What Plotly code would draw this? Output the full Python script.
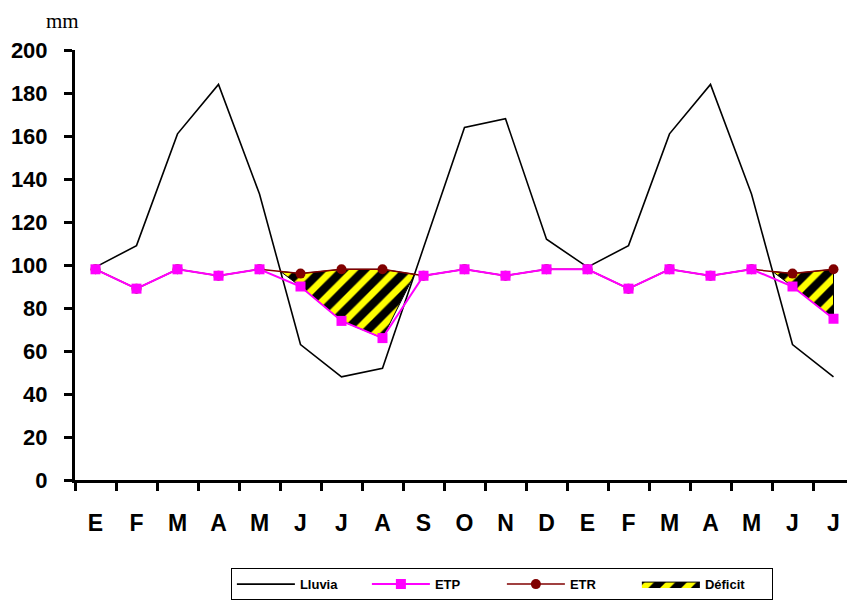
import plotly.graph_objects as go

months = ["E", "F", "M", "A", "M", "J", "J", "A", "S", "O", "N", "D",
          "E", "F", "M", "A", "M", "J", "J"]
lluvia = [99, 109, 161, 184, 133, 63, 48, 52, 108, 164, 168, 112,
          99, 109, 161, 184, 133, 63, 48]
etp = [98, 89, 98, 95, 98, 90, 74, 66, 95, 98, 95, 98,
       98, 89, 98, 95, 98, 90, 75]
etr = [98, 89, 98, 95, 98, 96, 98, 98, 95, 98, 95, 98,
       98, 89, 98, 95, 98, 96, 98]
y_ticks = [0, 20, 40, 60, 80, 100, 120, 140, 160, 180, 200]

xs = list(range(len(months)))
FONT = "Arial, Liberation Sans, sans-serif"


def cross(i, j):
    d0 = lluvia[i] - etr[i]
    d1 = lluvia[j] - etr[j]
    t = d0 / (d0 - d1)
    return i + t * (j - i), etr[i] + t * (etr[j] - etr[i])


# deficit regions: contiguous indices where ETR > ETP
regions = []
cur = []
for i in xs:
    if etr[i] != etp[i]:
        cur.append(i)
    else:
        if cur:
            regions.append(cur)
        cur = []
if cur:
    regions.append(cur)

fig = go.Figure()

for k, reg in enumerate(regions):
    px, py = [], []
    i0, i1 = reg[0], reg[-1]
    if i0 > 0:
        cx, cy = cross(i0 - 1, i0)
        px.append(cx); py.append(cy)
    for i in reg:
        px.append(i); py.append(etr[i])
    if i1 < len(xs) - 1:
        cx, cy = cross(i1, i1 + 1)
        px.append(cx); py.append(cy)
    for i in reversed(reg):
        px.append(i); py.append(etp[i])
    px.append(px[0]); py.append(py[0])
    fig.add_trace(go.Scatter(
        x=px, y=py, mode="lines", fill="toself",
        name="Déficit", legendgroup="def", showlegend=(k == 0),
        legendrank=4,
        line=dict(color="black", width=1),
        fillcolor="#ffff00",
        fillpattern=dict(shape="/", fgcolor="black", bgcolor="#ffff00",
                         size=15, solidity=0.55, fillmode="replace"),
        hoverinfo="skip",
    ))

fig.add_trace(go.Scatter(
    x=xs, y=lluvia, mode="lines", name="Lluvia", legendrank=1,
    line=dict(color="black", width=1.6),
))
fig.add_trace(go.Scatter(
    x=xs, y=etr, mode="lines+markers", name="ETR", legendrank=3,
    line=dict(color="#800000", width=1.5),
    marker=dict(symbol="circle", size=10, color="#800000"),
))
fig.add_trace(go.Scatter(
    x=xs, y=etp, mode="lines+markers", name="ETP", legendrank=2,
    line=dict(color="#ff00ff", width=2),
    marker=dict(symbol="square", size=10, color="#ff00ff"),
))

fig.update_layout(
    width=847, height=606,
    margin=dict(l=67, r=1, t=42, b=134, autoexpand=False),
    plot_bgcolor="white", paper_bgcolor="white",
    font=dict(family=FONT, color="black"),
    showlegend=True,
    legend=dict(
        orientation="h", x=0.548, xanchor="center", y=-0.205, yanchor="top",
        bordercolor="black", borderwidth=1, bgcolor="white",
        font=dict(family=FONT, size=13, color="black", weight="bold"),
        itemwidth=58, entrywidth=62, traceorder="normal",
    ),
    xaxis=dict(
        range=[-0.5, 18.5],
        tickmode="array", tickvals=xs, ticktext=months,
        ticks="outside", ticklen=20, tickcolor="rgba(0,0,0,0)",
        tickfont=dict(family=FONT, size=23, color="black", weight="bold"),
        showline=True, linecolor="black", linewidth=3,
        showgrid=False, zeroline=False,
        minor=dict(tick0=-0.5, dtick=1, ticks="outside", ticklen=8,
                   tickwidth=2.5, tickcolor="black", showgrid=False),
    ),
    yaxis=dict(
        range=[0, 200],
        tickmode="array", tickvals=y_ticks,
        ticks="outside", ticklen=8, tickwidth=2.5, tickcolor="black",
        ticklabelstandoff=12,
        tickfont=dict(family=FONT, size=22, color="black", weight="bold"),
        showline=True, linecolor="black", linewidth=3,
        showgrid=False, zeroline=False,
    ),
    annotations=[dict(
        text="mm", xref="paper", yref="paper",
        x=-0.016, y=1.097, xanchor="center", yanchor="top",
        showarrow=False, borderpad=0,
        font=dict(family="Times New Roman, Liberation Serif, serif", size=21, color="black"),
    )],
)

fig.write_html("out.html")
